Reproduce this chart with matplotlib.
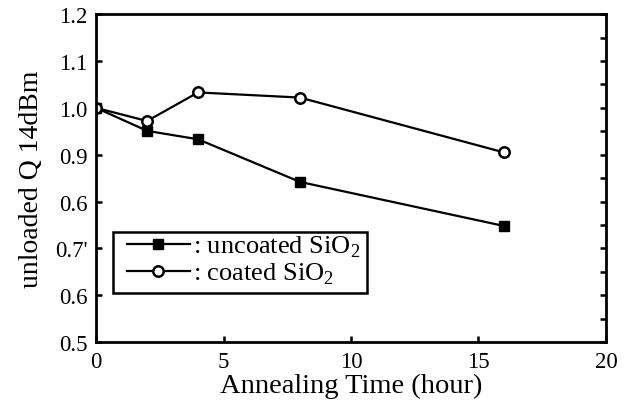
import matplotlib
matplotlib.use('Agg')
import matplotlib.pyplot as plt
from matplotlib.patches import Rectangle
from matplotlib.ticker import MultipleLocator

# данные
hours = [0, 2, 4, 8, 16]
uncoated = [1.0, 0.951, 0.933, 0.842, 0.748]
coated = [1.0, 0.972, 1.033, 1.022, 0.905]

y_ticks = [0.5, 0.6, 0.7, 0.8, 0.9, 1.0, 1.1, 1.2]
y_labels = ['0.5', '0.6', "0.7'", '0.6', '0.9', '1.0', '1.1', '1.2']
x_ticks = [0, 5, 10, 15, 20]

plt.rcParams['font.family'] = ['Liberation Serif', 'DejaVu Serif']

fig = plt.figure(figsize=(6.24, 4.10), dpi=100)
ax = fig.add_axes([0.154, 0.163, 0.817, 0.800])

ax.plot(hours, uncoated, color='black', lw=1.6, marker='s', ms=7,
        mfc='black', mec='black', label=r': uncoated SiO$_\mathregular{2}$')
ax.plot(hours, coated, color='black', lw=1.6, marker='o', ms=7.5,
        mfc='white', mec='black', mew=1.8, label=r': coated SiO$_\mathregular{2}$')

ax.set_xlim(0, 20)
ax.set_ylim(0.5, 1.2)
ax.set_xticks(x_ticks)
ax.set_yticks(y_ticks)
ax.set_yticklabels(y_labels)
ax.yaxis.set_minor_locator(MultipleLocator(0.05))
ax.tick_params(which='major', direction='in', length=4, width=1.8,
               labelsize=16.5, right=True, top=False, pad=6)
ax.tick_params(which='minor', direction='in', length=4, width=1.8,
               left=False, right=True)
for s in ax.spines.values():
    s.set_linewidth(2)

ax.set_xlabel('Annealing Time (hour)', fontsize=20.5, labelpad=1)
ax.set_ylabel('unloaded Q 14dBm', fontsize=20, labelpad=8)

# рамка легенды рисуется отдельно
ax.add_patch(Rectangle((0.033, 0.149), 0.498, 0.186, transform=ax.transAxes,
                       fill=False, edgecolor='black', lw=1.8, zorder=5))
ax.legend(loc='upper left', bbox_to_anchor=(0.06, 0.33),
          borderaxespad=0, fontsize=19, frameon=False,
          handlelength=2.4, handletextpad=0.1, borderpad=0,
          labelspacing=0.05)

plt.savefig('out.png', dpi=100)
